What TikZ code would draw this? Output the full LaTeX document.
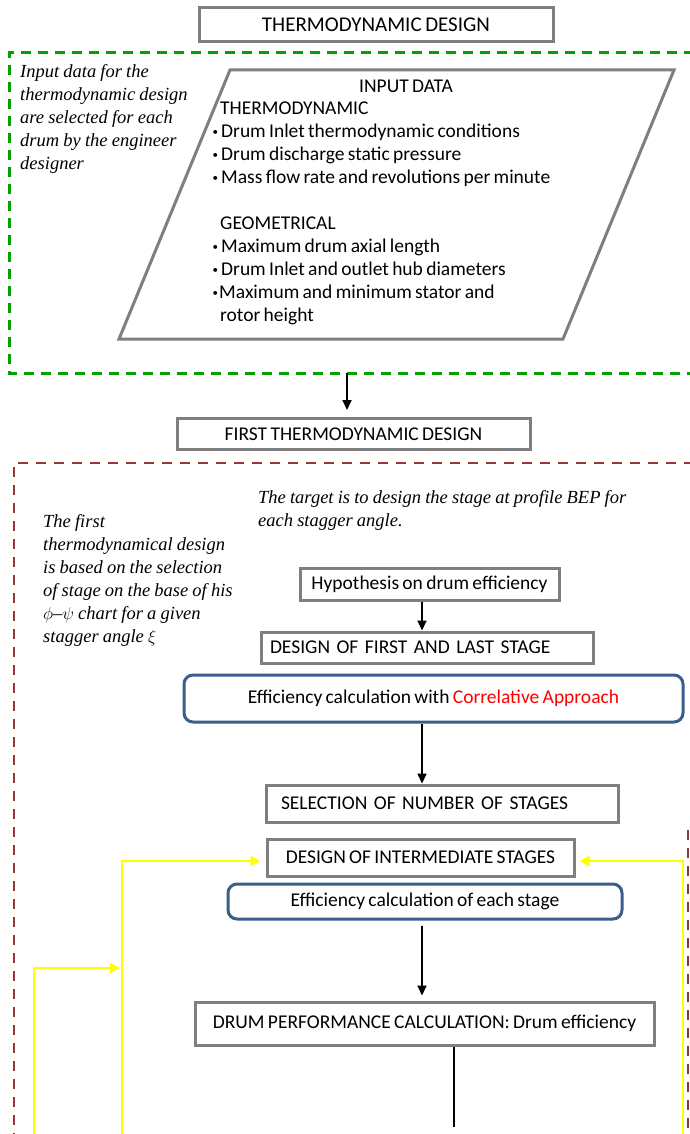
\documentclass[tikz,border=0pt]{standalone}
\usepackage{fontspec}
\setmainfont[WordSpace=0.75]{Carlito}
\newfontfamily\notefont[WordSpace=0.9]{Liberation Serif}
\usetikzlibrary{arrows.meta,calc}

\definecolor{boxgray}{RGB}{127,127,127}
\definecolor{boxblue}{RGB}{58,95,140}
\definecolor{greendash}{RGB}{0,160,0}
\definecolor{reddash}{RGB}{150,55,53}
\definecolor{loopyellow}{RGB}{255,255,0}
\definecolor{hired}{RGB}{255,0,0}

% small raised bullet used in the input list
\newcommand{\listdot}{\makebox[10pt][l]{\hspace{1.5pt}\raisebox{2.5pt}{\fontsize{11}{11}\selectfont•}}}

\tikzset{
  boxtext/.style={font=\fontsize{19.5}{23}\selectfont},
  graybox/.style={boxtext, draw=boxgray, line width=3pt, fill=white,
    inner sep=0pt, align=center},
  bluebox/.style={graybox, draw=boxblue, rounded corners=9pt},
  note/.style={font=\notefont\itshape\fontsize{18.5}{23}\selectfont,
    align=left, anchor=north west, inner sep=0pt},
  flow/.style={-{Triangle[length=10pt,width=9pt]}, line width=2pt},
  loopback/.style={draw=loopyellow, line width=2.6pt,
    -{Triangle[length=10pt,width=10pt]}},
  greenframe/.style={draw=greendash, line width=3pt, dash pattern=on 10pt off 7pt},
  redframe/.style={draw=reddash, line width=2.6pt, dash pattern=on 10pt off 8pt},
}

\begin{document}
\begin{tikzpicture}[x=1pt, y=-1pt]
\useasboundingbox (0,0) rectangle (690,1134);
\fill[white] (0,0) rectangle (690,1134);

% ---- header
\node[graybox, font=\fontsize{21}{23}\selectfont, minimum width=354pt, minimum height=34pt] (title) at (376,24.5) {THERMODYNAMIC DESIGN};

% ---- input data block
\draw[greenframe] (694,53) -- (9,53) -- (9,373) -- (694,373);
\coordinate (greenout) at (347,373);

\node[note] (inputnote) at (20,64) {Input data for the\\thermodynamic design\\are selected for each\\drum by the engineer\\designer};

\draw[draw=boxgray, line width=3pt, line join=miter]
  (230,70) -- (674,70) -- (563,339) -- (119,339) -- cycle;
\node[boxtext, anchor=base, inner sep=0pt] (inputtitle) at (406,93) {INPUT DATA};
\node[boxtext, anchor=north west, align=left, inner sep=0pt] (inputlist) at (211,102)
  {\hspace{9pt}THERMODYNAMIC\\
   \listdot Drum Inlet thermodynamic conditions\\
   \listdot Drum discharge static pressure\\
   \listdot Mass flow rate and revolutions per minute\\[23pt]
   \hspace{9pt}GEOMETRICAL\\
   \listdot Maximum drum axial length\\
   \listdot Drum Inlet and outlet hub diameters\\
   \makebox[8pt][l]{\hspace{1.5pt}\raisebox{2.5pt}{\fontsize{11}{11}\selectfont•}}Maximum and minimum stator and\\
   \hspace{9pt}rotor height};

% ---- first thermodynamic design
\node[graybox, minimum width=353pt, minimum height=31pt] (first) at (353.5,434) {FIRST THERMODYNAMIC DESIGN};
\draw[flow, shorten >=7pt] (greenout) -- (greenout |- first.north);

\draw[redframe] (694,463) -- (14,463) -- (14,1138);
\draw[redframe] (688,830) -- (688,1138);

\node[note] (targetnote) at (258,490) {The target is to design the stage at profile BEP for\\each stagger angle.};
\node[note] (chartnote) at (43,514) {The first\\thermodynamical design\\is based on the selection\\of stage on the base of his\\$\phi$–$\psi$ chart for a given\\stagger angle $\xi$};

\node[graybox, minimum width=259pt, minimum height=32pt] (hyp) at (429.5,584) {Hypothesis on drum efficiency};
\node[graybox, minimum width=332pt, minimum height=31pt, text width=314pt, align=left] (firstlast) at (427,647.5) {DESIGN OF FIRST AND LAST STAGE};
\node[bluebox, minimum width=499pt, minimum height=47pt] (corr) at (433.5,698.5) {Efficiency calculation with \textcolor{hired}{Correlative Approach}};
\node[graybox, minimum width=352pt, minimum height=37pt, text width=322pt, align=left] (select) at (442,803.5) {SELECTION OF NUMBER OF STAGES};
\node[graybox, minimum width=307pt, minimum height=37pt] (inter) at (420.5,857.5) {DESIGN OF INTERMEDIATE STAGES};
\node[bluebox, minimum width=394pt, minimum height=35pt] (each) at (425,901.5) {Efficiency calculation of each stage};
\node[graybox, minimum width=459pt, minimum height=43pt] (drum) at (424.5,1023.5) {DRUM PERFORMANCE CALCULATION: Drum efficiency};

\coordinate (mainx) at (422,0);
\draw[flow] (hyp.south -| mainx) -- (firstlast.north -| mainx);
\draw[flow] (corr.south -| mainx) -- (select.north -| mainx);
\draw[flow, shorten <=5pt, shorten >=5pt] (each.south -| mainx) -- (drum.north -| mainx);
\coordinate (drumend) at (454,1127);
\draw[line width=2pt] (drum.south -| drumend) -- (drumend);

% ---- iteration loops
\coordinate (loopL) at (122,1136);
\coordinate (loopLL) at (34,1136);
\coordinate (loopR) at (683,1136);
\coordinate (loopLjoin) at (122,968);
\draw[loopback, shorten >=5pt] (loopL) |- ([yshift=-3.5pt]inter.west);
\draw[loopback, shorten >=4pt] (loopR) |- ([yshift=-3.5pt]inter.east);
\draw[loopback, shorten >=2pt] (loopLL) |- (loopLjoin);
\end{tikzpicture}
\end{document}
